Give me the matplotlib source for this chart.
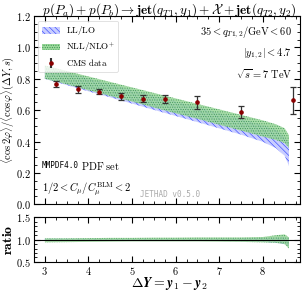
import matplotlib
matplotlib.use('Agg')
import matplotlib.pyplot as plt
from matplotlib.patches import Patch
from matplotlib.ticker import AutoMinorLocator, FuncFormatter
import numpy as np

plt.rcParams['font.family'] = 'serif'
plt.rcParams['font.serif'] = ['DejaVu Serif']
plt.rcParams['mathtext.fontset'] = 'cm'
plt.rcParams['hatch.linewidth'] = 0.4

# CMS data
dy_data = [3.25, 3.75, 4.25, 4.75, 5.25, 5.75, 6.5, 7.5, 8.7]
r_data = [0.768, 0.732, 0.718, 0.688, 0.673, 0.671, 0.649, 0.589, 0.663]
r_err = [0.018, 0.020, 0.018, 0.020, 0.022, 0.026, 0.040, 0.038, 0.085]

# theory bands
dy_th = [3.0, 3.5, 4.0, 4.5, 5.0, 5.5, 6.0, 6.5, 7.0, 7.5, 8.0, 8.3, 8.5, 8.6]
nll_hi = [0.885, 0.850, 0.815, 0.780, 0.745, 0.710, 0.675, 0.640, 0.605, 0.570, 0.535, 0.510, 0.485, 0.440]
nll_lo = [0.800, 0.765, 0.727, 0.690, 0.655, 0.617, 0.580, 0.545, 0.507, 0.470, 0.432, 0.410, 0.390, 0.360]
ll_hi = [0.875, 0.840, 0.802, 0.766, 0.730, 0.692, 0.656, 0.620, 0.582, 0.545, 0.505, 0.475, 0.440, 0.390]
ll_lo = [0.800, 0.760, 0.720, 0.682, 0.642, 0.602, 0.563, 0.524, 0.484, 0.444, 0.398, 0.358, 0.310, 0.245]

# ratio bands
nll_rhi = [1.03, 1.03, 1.035, 1.04, 1.04, 1.045, 1.045, 1.05, 1.05, 1.05, 1.06, 1.10, 1.12, 1.05]
nll_rlo = [0.94, 0.945, 0.95, 0.955, 0.96, 0.96, 0.96, 0.96, 0.955, 0.95, 0.94, 0.93, 0.90, 0.80]
ll_rhi = [1.02, 1.02, 1.02, 1.02, 1.02, 1.02, 1.02, 1.02, 1.025, 1.03, 1.04, 1.05, 1.06, 1.03]
ll_rlo = [0.98, 0.98, 0.98, 0.98, 0.98, 0.98, 0.98, 0.975, 0.97, 0.965, 0.95, 0.93, 0.90, 0.84]

blue_face = '#c8cdff'
blue_edge = '#2a3cff'
green_face = '#9ad89a'
green_edge = '#2f8a4a'
ll_hatch = '\\\\\\\\\\\\'
nll_hatch = '.......'


def bold_tick(v, pos):
    return r'$\mathbf{%.1f}$' % v


def bold_int(v, pos):
    return r'$\mathbf{%d}$' % int(round(v))


fig = plt.figure(figsize=(3.06, 2.93), dpi=100)
ax = fig.add_axes([0.111, 0.303, 0.869, 0.642])
axr = fig.add_axes([0.111, 0.106, 0.869, 0.152])

# main panel
ax.fill_between(dy_th, ll_lo, ll_hi, facecolor=blue_face, edgecolor=blue_edge,
                hatch=ll_hatch, linewidth=0.0, zorder=2)
ax.fill_between(dy_th, nll_lo, nll_hi, facecolor=green_face, edgecolor=green_edge,
                hatch=nll_hatch, linewidth=0.0, alpha=0.85, zorder=3)
ax.errorbar(dy_data, r_data, yerr=r_err, fmt='o', color='#8b0000', ms=2.3,
            ecolor='#333333', elinewidth=0.9, capsize=2.5, capthick=0.9, zorder=5)

ax.set_xlim(2.75, 8.85)
ax.set_ylim(0.0, 1.2)
ax.set_yticks([0.0, 0.2, 0.4, 0.6, 0.8, 1.0, 1.2])
ax.yaxis.set_major_formatter(FuncFormatter(bold_tick))
ax.set_xticks([3, 4, 5, 6, 7, 8])
ax.set_xticklabels([])
ax.xaxis.set_minor_locator(AutoMinorLocator(4))
ax.yaxis.set_minor_locator(AutoMinorLocator(4))
ax.tick_params(which='both', direction='in', top=True, right=True, labelsize=7.5, pad=2)
ax.tick_params(which='major', length=4)
ax.tick_params(which='minor', length=2)

ax.set_ylabel(r'$\langle \cos 2\varphi \rangle / \langle \cos \varphi \rangle (\Delta Y, s)$',
              fontsize=7.5, va='center')
ax.yaxis.set_label_coords(-0.098, 0.5)
fig.text(0.555, 0.997,
         r'$p(P_a) + p(P_b) \to \mathbf{jet}(q_{T1}, y_1) + \mathcal{X} + \mathbf{jet}(q_{T2}, y_2)$',
         ha='center', va='top', fontsize=9.5)

ax.text(0.97, 0.955, r'$35 < q_{T1,2}/\mathrm{GeV} < 60$', transform=ax.transAxes,
        ha='right', va='top', fontsize=7.5)
ax.text(0.97, 0.84, r'$|y_{1,2}| < 4.7$', transform=ax.transAxes,
        ha='right', va='top', fontsize=7.5)
ax.text(0.97, 0.73, r'$\sqrt{s} = 7\ \mathrm{TeV}$', transform=ax.transAxes,
        ha='right', va='top', fontsize=7.5)

ax.text(0.03, 0.205, 'MMPDF4.0', transform=ax.transAxes, ha='left', va='center',
        fontsize=5.5, family='monospace')
ax.text(0.175, 0.205, r'$\mathrm{PDF\ set}$', transform=ax.transAxes, ha='left', va='center',
        fontsize=7.5)
ax.text(0.03, 0.085, r'$1/2 < C_\mu / C_\mu^{\rm BLM} < 2$', transform=ax.transAxes,
        ha='left', va='center', fontsize=7.5)
ax.text(0.40, 0.05, 'JETHAD v0.5.0', transform=ax.transAxes, ha='left', va='center',
        fontsize=5.5, family='monospace', color='#aaaaaa')

handles = [
    Patch(facecolor=blue_face, edgecolor=blue_edge, hatch=ll_hatch, linewidth=0.0, label=r'$\mathrm{LL/LO}$'),
    Patch(facecolor=green_face, edgecolor=green_edge, hatch=nll_hatch, linewidth=0.0, label=r'$\mathrm{NLL/NLO^{+}}$'),
]
data_handle = ax.errorbar([], [], yerr=[], fmt='o', color='#8b0000', ms=2.3,
                          ecolor='#333333', capsize=2.5, label=r'$\mathrm{CMS\ data}$')
leg = ax.legend(handles=handles + [data_handle], loc='upper left', fontsize=6.5,
                frameon=True, handlelength=2.0, handleheight=0.8, borderpad=0.4,
                labelspacing=0.35, handletextpad=0.6, fancybox=True, framealpha=0.8,
                bbox_to_anchor=(0.0, 1.0))
leg.get_frame().set_linewidth(0.5)

# ratio panel
axr.fill_between(dy_th, ll_rlo, ll_rhi, facecolor=blue_face, edgecolor=blue_edge,
                 hatch=ll_hatch, linewidth=0.0, zorder=2)
axr.fill_between(dy_th, nll_rlo, nll_rhi, facecolor=green_face, edgecolor=green_edge,
                 hatch=nll_hatch, linewidth=0.0, alpha=0.85, zorder=3)
axr.axhline(1.0, color='black', linewidth=0.8, zorder=4)
axr.set_xlim(2.75, 8.85)
axr.set_ylim(0.5, 1.5)
axr.set_yticks([0.5, 1.0, 1.5])
axr.yaxis.set_major_formatter(FuncFormatter(bold_tick))
axr.set_xticks([3, 4, 5, 6, 7, 8])
axr.xaxis.set_major_formatter(FuncFormatter(bold_int))
axr.xaxis.set_minor_locator(AutoMinorLocator(4))
axr.yaxis.set_minor_locator(AutoMinorLocator(5))
axr.tick_params(which='both', direction='in', top=True, right=True, labelsize=7.5, pad=2)
axr.tick_params(which='major', length=4)
axr.tick_params(which='minor', length=2)
axr.set_ylabel(r'$\mathbf{ratio}$', fontsize=10, va='center')
axr.yaxis.set_label_coords(-0.098, 0.5)
fig.text(0.555, 0.002, r'$\mathbf{\Delta}\mathbfit{Y} = \mathbfit{y}_1 - \mathbfit{y}_2$',
         ha='center', va='bottom', fontsize=10)

plt.savefig('out.png', dpi=100)
